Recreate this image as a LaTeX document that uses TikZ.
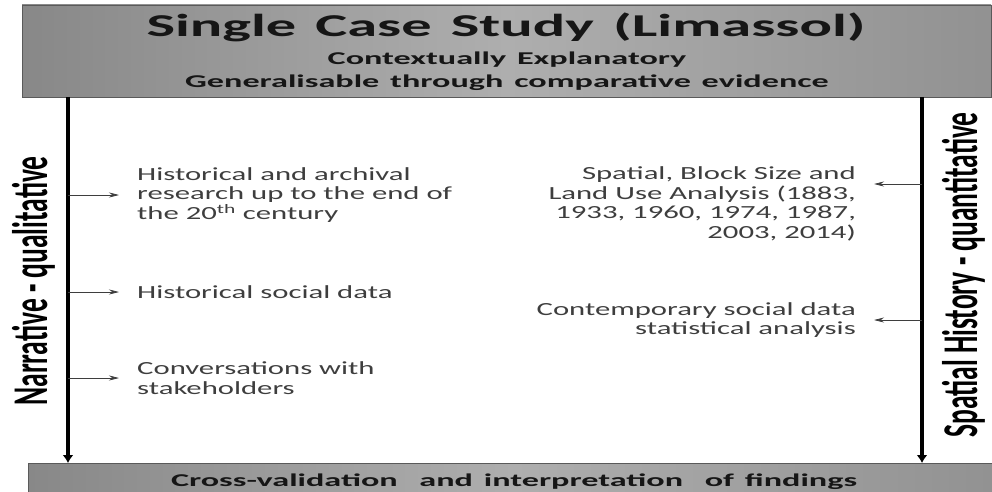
\documentclass[tikz,border=0pt]{standalone}
\usepackage{fontspec}
\usetikzlibrary{arrows.meta,positioning}
\newfontfamily\headfont[FakeStretch=1.9,WordSpace=1.4]{Carlito}
\newfontfamily\itemfont[FakeStretch=1.66]{Carlito}
\newfontfamily\axisfont[FakeStretch=0.55]{Carlito}
\definecolor{panelgray}{RGB}{136,136,136}
\definecolor{panellight}{RGB}{174,174,174}
\definecolor{panelline}{RGB}{90,90,90}
\definecolor{itemgray}{RGB}{62,62,62}
\definecolor{headink}{RGB}{22,22,22}

\begin{document}
\begin{tikzpicture}[x=1pt,y=1pt,>=Stealth,
  panel/.style={draw=panelline,line width=0.8pt,left color=panelgray,right color=panelgray!92!white,middle color=panellight},
  headtext/.style={anchor=base,inner sep=0pt,text=headink},
  axisline/.style={line width=3.5pt,-{Latex[length=8pt,width=11pt]}},
  axislabel/.style={rotate=90,anchor=base,inner sep=0pt,font=\axisfont\bfseries\fontsize{50}{50}\selectfont},
  itemtext/.style={inner sep=0pt,text=itemgray,font=\itemfont\fontsize{18.5}{19.5}\selectfont},
  feed/.style={-{Stealth[length=10pt,width=5pt]},line width=0.7pt,draw=itemgray,shorten >=18pt}]
\useasboundingbox (0,0) rectangle (992,491);

\draw[panel] (22,486) rectangle (991,394);
\node[headtext,font=\headfont\bfseries\fontsize{31.8}{31.8}\selectfont] (title) at (506,454) {Single Case Study (Limassol)};
\node[headtext,font=\headfont\bfseries\fontsize{18}{18}\selectfont] (explain) at (507,426) {Contextually Explanatory};
\node[headtext,font=\headfont\bfseries\fontsize{18}{18}\selectfont] (general) at (507,403) {Generalisable through comparative evidence};

\draw[panel] (28,28) rectangle (999,-8);
\node[headtext,font=\headfont\bfseries\fontsize{18}{18}\selectfont] (findings) at (514,5) {Cross-validation~ and interpretation~ of findings};

\coordinate (ltop) at (68,394);
\coordinate (lbot) at (68,28);
\coordinate (rtop) at (922,394);
\coordinate (rbot) at (922,28);
\draw[axisline] (ltop) -- (lbot);
\draw[axisline] (rtop) -- (rbot);
\node[axislabel] (narrative) at (47,210) {Narrative - qualitative};
\node[axislabel] (spatial) at (977,216) {Spatial History - quantitative};

\node[itemtext,anchor=west,align=left] (archival) at (137,296) {Historical and archival\\research up to the end of\\the 20\textsuperscript{th} century};
\node[itemtext,anchor=west] (socialdata) at (137,199) {Historical social data};
\node[itemtext,anchor=west,align=left] (stakeholders) at (137,113) {Conversations with\\stakeholders};
\draw[feed] (archival.west -| ltop) -- (archival.west);
\draw[feed] (socialdata.west -| ltop) -- (socialdata.west);
\draw[feed] (stakeholders.west -| ltop) -- (stakeholders.west);

\node[itemtext,anchor=east,align=right] (blocksize) at (856,287) {Spatial, Block Size and\\Land Use Analysis (1883,\\1933, 1960, 1974, 1987,\\2003, 2014)};
\node[itemtext,anchor=east,align=right] (contemporary) at (856,171) {Contemporary social data\\statistical analysis};
\coordinate (blockfeed) at ([yshift=20pt]blocksize.east);
\draw[feed] (blockfeed -| rtop) -- (blockfeed);
\draw[feed] (contemporary.east -| rtop) -- (contemporary.east);
\end{tikzpicture}
\end{document}
